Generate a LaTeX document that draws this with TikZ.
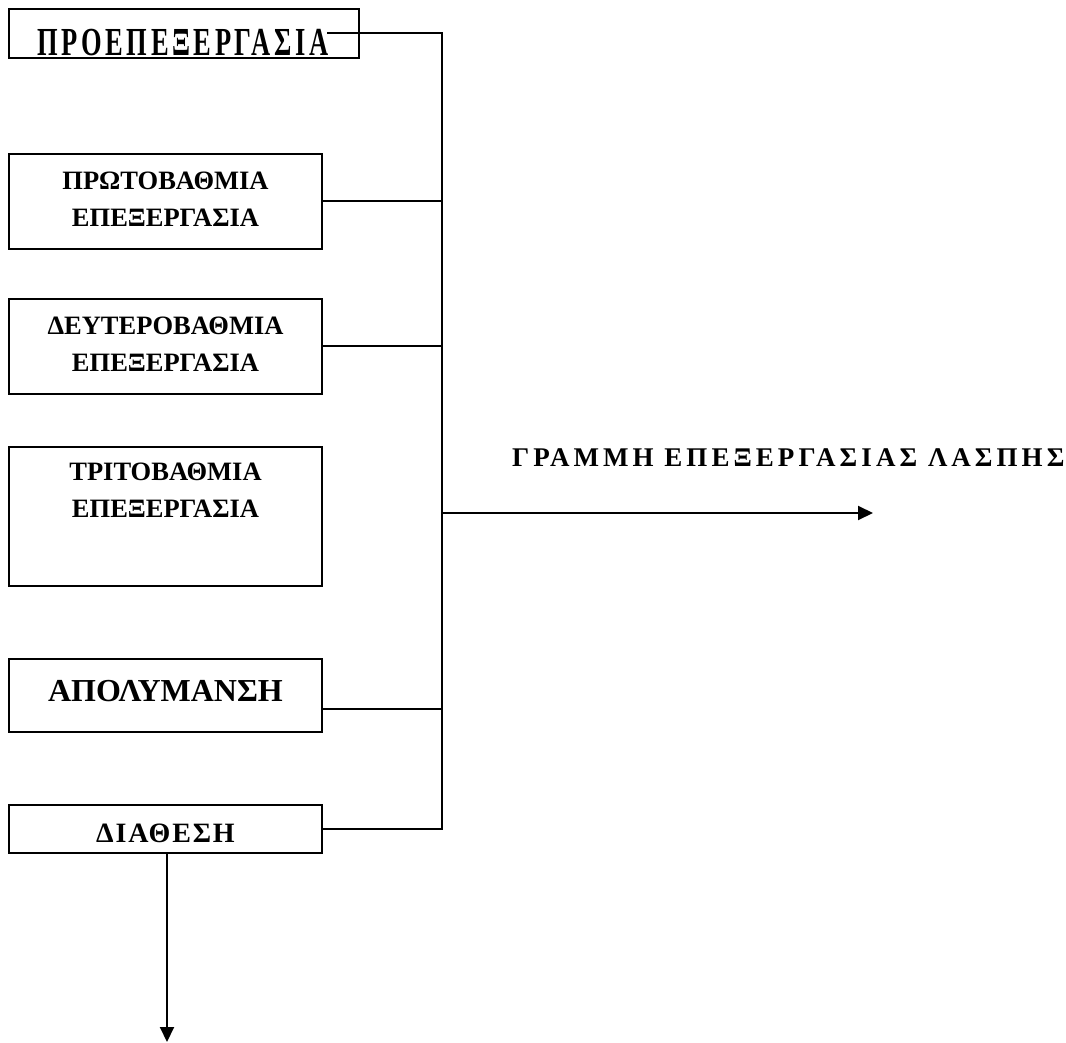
\documentclass[tikz,border=0pt]{standalone}
\usepackage{fontspec}
\setmainfont{Liberation Serif}
\usetikzlibrary{arrows.meta}
\begin{document}
\begin{tikzpicture}[x=1pt,y=-1pt,
  stagebox/.style={draw,line width=2pt,inner sep=0pt,minimum width=313pt},
  stagetext/.style={inner sep=0pt,align=center,font=\fontsize{26.5}{37}\selectfont\bfseries},
  conn/.style={line width=2pt},
  flow/.style={line width=2pt,-{Triangle[length=15pt,width=14pt]}}]
\useasboundingbox (0,0) rectangle (1066,1043);
% boxes
\node[stagebox,minimum width=350pt,minimum height=49pt] (p0) at (184,33.5) {};
\node[stagebox,minimum height=95pt]  (p1) at (165.5,201.5) {};
\node[stagebox,minimum height=95pt]  (p2) at (165.5,346) {};
\node[stagebox,minimum height=139pt] (p3) at (165.5,516.5) {};
\node[stagebox,minimum height=73pt]  (p4) at (165.5,695.5) {};
\node[stagebox,minimum height=48pt]  (p5) at (165.5,829) {};
% texts
\node[stagetext] (t0) at (183,42.5) {\scalebox{1}[1.5]{\addfontfeature{LetterSpace=13.6}ΠΡΟΕΠΕΞΕΡΓΑΣΙΑ}};
\node[stagetext] (t1) at (165.5,199.5) {ΠΡΩΤΟΒΑΘΜΙΑ\\ΕΠΕΞΕΡΓΑΣΙΑ};
\node[stagetext] (t2) at (165.5,344) {ΔΕΥΤΕΡΟΒΑΘΜΙΑ\\ΕΠΕΞΕΡΓΑΣΙΑ};
\node[stagetext] (t3) at (165.5,490) {ΤΡΙΤΟΒΑΘΜΙΑ\\ΕΠΕΞΕΡΓΑΣΙΑ};
\node[stagetext,font=\fontsize{32}{38}\selectfont\bfseries] (t4) at (165.5,691.5) {ΑΠΟΛΥΜΑΝΣΗ};
\node[stagetext,font=\fontsize{28}{34}\selectfont\bfseries] (t5) at (165.5,833) {\addfontfeature{LetterSpace=6.5}ΔΙΑΘΕΣΗ};
\node[inner sep=0pt,anchor=west,font=\fontsize{27}{32}\selectfont\bfseries] (lbl) at (512,458) {\addfontfeature{LetterSpace=15}ΓΡΑΜΜΗ ΕΠΕΞΕΡΓΑΣΙΑΣ ΛΑΣΠΗΣ};
% collector line
\coordinate (s0) at (327,33);
\coordinate (bt) at (442,33);
\coordinate (bb) at (442,829);
\draw[conn] (s0) -- (bt) -- (bb) -- (p5.east);
\draw[conn] (p1.east) -- (p1.east -| bt);
\draw[conn] (p2.east) -- (p2.east -| bt);
\coordinate (c4) at (442,709);
\draw[conn] (p4.east |- c4) -- (c4);
% outgoing arrows
\coordinate (a0) at (442,513);
\coordinate (a1) at (873,513);
\draw[flow] (a0) -- (a1);
\coordinate (d1) at (167,1042);
\draw[flow] (p5.south -| d1) -- (d1);
\end{tikzpicture}
\end{document}
